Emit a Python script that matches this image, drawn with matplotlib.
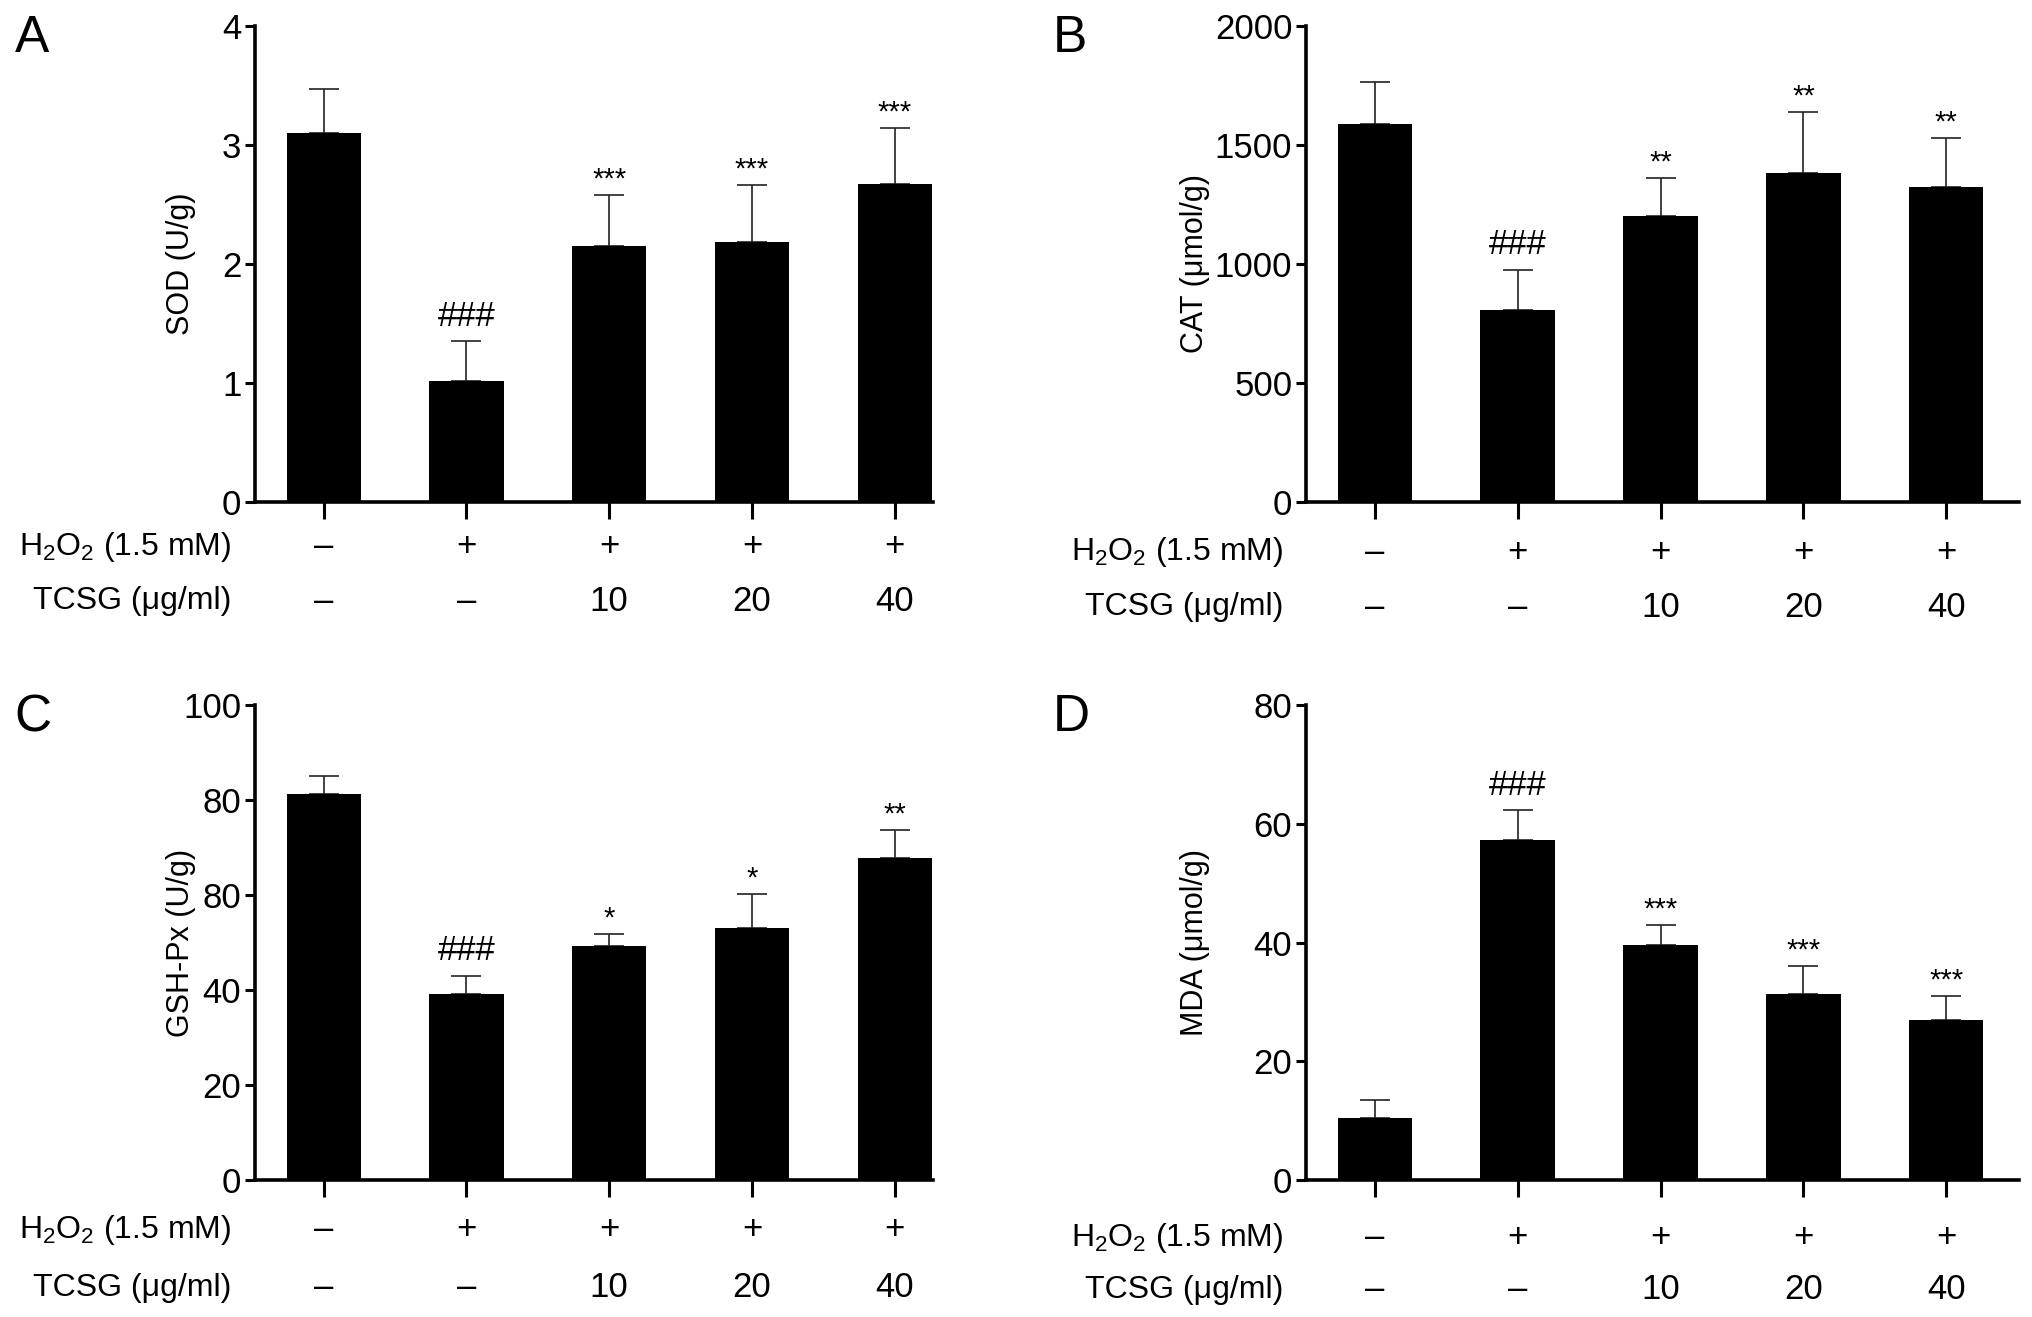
import numpy as np
import matplotlib
matplotlib.use('Agg')
import matplotlib.pyplot as plt
from matplotlib.transforms import blended_transform_factory

plt.rcParams['font.family'] = ['Liberation Sans', 'DejaVu Sans']
plt.rcParams['mathtext.default'] = 'regular'

# group rows under the x axis
h2o2_row = ['–', '+', '+', '+', '+']
tcsg_row = ['–', '–', '10', '20', '40']

# panel A: SOD
sod_mean = [3.10, 1.01, 2.15, 2.18, 2.67]
sod_err = [0.37, 0.34, 0.43, 0.48, 0.47]
sod_marks = ['', '###', '***', '***', '***']
sod_ticks = [0, 1, 2, 3, 4]
sod_ticklabels = ['0', '1', '2', '3', '4']

# panel B: CAT
cat_mean = [1586, 807, 1199, 1384, 1324]
cat_err = [180, 168, 163, 256, 207]
cat_marks = ['', '###', '**', '**', '**']
cat_ticks = [0, 500, 1000, 1500, 2000]
cat_ticklabels = ['0', '500', '1000', '1500', '2000']

# panel C: GSH-Px (tick labels as printed in the figure)
gsh_mean = [81.2, 39.2, 49.3, 53.1, 67.8]
gsh_err = [3.8, 3.8, 2.5, 7.1, 5.8]
gsh_marks = ['', '###', '*', '*', '**']
gsh_ticks = [0, 20, 40, 60, 80, 100]
gsh_ticklabels = ['0', '20', '40', '80', '80', '100']

# panel D: MDA
mda_mean = [10.5, 57.3, 39.5, 31.4, 27.0]
mda_err = [3.0, 5.0, 3.4, 4.6, 4.0]
mda_marks = ['', '###', '***', '***', '***']
mda_ticks = [0, 20, 40, 60, 80]
mda_ticklabels = ['0', '20', '40', '60', '80']


def draw_panel(ax, letter, ylabel, means, errs, marks, ticks, ticklabels,
               xlim, row_y, label_dx, ylabel_x):
    x = np.arange(len(means))
    ax.bar(x, means, width=0.52, color='black', zorder=2)
    ax.errorbar(x, means, yerr=[np.zeros(len(errs)), errs], fmt='none',
                ecolor='#222222', elinewidth=1.2, capsize=11, capthick=1.2,
                zorder=1)

    for xi, m, e, mk in zip(x, means, errs, marks):
        if not mk:
            continue
        if mk.startswith('#'):
            ax.annotate(mk, (xi, m + e), xytext=(0, 6), textcoords='offset points',
                        ha='center', va='bottom', fontsize=25)
        else:
            ax.annotate(mk, (xi, m + e), xytext=(0, 1), textcoords='offset points',
                        ha='center', va='bottom', fontsize=21)

    ax.set_xlim(*xlim)
    ax.set_ylim(ticks[0], ticks[-1])
    ax.set_yticks(ticks)
    ax.set_yticklabels(ticklabels)
    ax.set_xticks(x)
    ax.set_xticklabels([])

    for side in ['top', 'right']:
        ax.spines[side].set_visible(False)
    for side in ['left', 'bottom']:
        ax.spines[side].set_linewidth(2.6)
    ax.tick_params(axis='y', direction='out', length=7, width=2.2,
                   labelsize=25, pad=3)
    ax.tick_params(axis='x', direction='out', length=12, width=2.2)

    ax.set_ylabel(ylabel, fontsize=22)
    ax.yaxis.set_label_coords(ylabel_x, 0.5)

    trans = blended_transform_factory(ax.transData, ax.transAxes)
    for xi, h, t in zip(x, h2o2_row, tcsg_row):
        ax.text(xi, row_y[0], h, transform=trans, ha='center', va='center', fontsize=25)
        ax.text(xi, row_y[1], t, transform=trans, ha='center', va='center', fontsize=25)
    ax.text(label_dx, row_y[0], 'H$_2$O$_2$ (1.5 mM)', transform=ax.transAxes,
            ha='right', va='center', fontsize=23)
    ax.text(label_dx, row_y[1], 'TCSG (μg/ml)', transform=ax.transAxes,
            ha='right', va='center', fontsize=23)

    ax.text(-0.355, 1.025, letter, transform=ax.transAxes, ha='left', va='top',
            fontsize=37)


def main():
    fig = plt.figure(figsize=(20.32, 13.17), dpi=100)

    ax_a = fig.add_axes([0.1256, 0.6192, 0.3337, 0.361])
    ax_b = fig.add_axes([0.6428, 0.6192, 0.3509, 0.361])
    ax_c = fig.add_axes([0.1256, 0.1040, 0.3337, 0.3607])
    ax_d = fig.add_axes([0.6428, 0.1040, 0.3509, 0.3607])

    draw_panel(ax_a, 'A', 'SOD (U/g)', sod_mean, sod_err, sod_marks,
               sod_ticks, sod_ticklabels, (-0.48, 4.27), (-0.095, -0.21), -0.035, -0.088)
    draw_panel(ax_b, 'B', 'CAT (μmol/g)', cat_mean, cat_err, cat_marks,
               cat_ticks, cat_ticklabels, (-0.48, 4.51), (-0.107, -0.222), -0.032, -0.135)
    draw_panel(ax_c, 'C', 'GSH-Px (U/g)', gsh_mean, gsh_err, gsh_marks,
               gsh_ticks, gsh_ticklabels, (-0.48, 4.27), (-0.105, -0.227), -0.035, -0.088)
    draw_panel(ax_d, 'D', 'MDA (μmol/g)', mda_mean, mda_err, mda_marks,
               mda_ticks, mda_ticklabels, (-0.48, 4.51), (-0.122, -0.231), -0.032, -0.135)

    fig.savefig('out.png', dpi=100)


if __name__ == '__main__':
    main()
